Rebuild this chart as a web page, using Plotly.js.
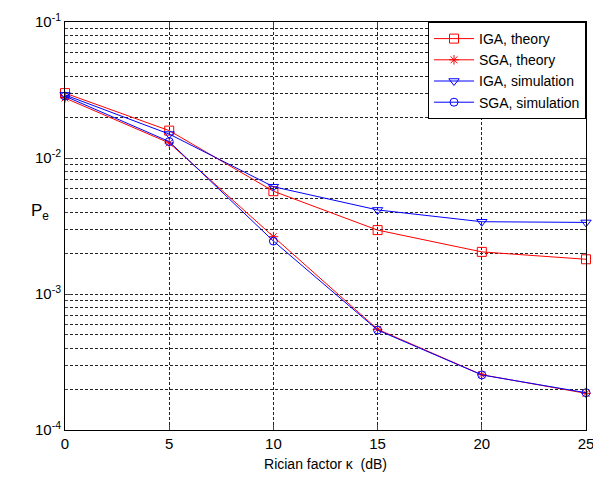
<!DOCTYPE html>
<html><head><meta charset="utf-8">
<script src="https://cdn.plot.ly/plotly-3.0.1.min.js"></script>
<style>html,body{margin:0;padding:0;background:#fff}#c{width:593px;height:477px}</style>
</head><body><div id="c"></div>
<script>
const kappa = [0, 5, 10, 15, 20, 25];
const igaTheory = [0.0300, 0.0159, 0.0057, 0.00295, 0.00204, 0.00180];
const sgaTheory = [0.0276, 0.0129, 0.00264, 0.00055, 0.000255, 0.000186];
const igaSim = [0.0291, 0.0150, 0.00615, 0.00415, 0.00340, 0.00336];
const sgaSim = [0.0285, 0.0132, 0.00245, 0.000543, 0.000254, 0.000188];
const yTickVals = [1e-4, 1e-3, 1e-2, 1e-1];
const yTickText = ['10<sup>-4</sup>', '10<sup>-3</sup>', '10<sup>-2</sup>', '10<sup>-1</sup>'];
const xTickVals = [0, 5, 10, 15, 20, 25];

const mk = (y, name, color, symbol, size) => ({
  x: kappa, y: y, name: name, type: 'scatter', mode: 'lines+markers', cliponaxis: false,
  line: {color: color, width: 1},
  marker: {symbol: symbol, size: size, color: color, line: {color: color, width: 1}}
});
const data = [
  mk(igaTheory, 'IGA, theory', '#ff0000', 'square-open', 9),
  mk(sgaTheory, 'SGA, theory', '#ff0000', 'asterisk-open', 8),
  mk(igaSim, 'IGA, simulation', '#0000ff', 'triangle-down-open', 9),
  mk(sgaSim, 'SGA, simulation', '#0000ff', 'circle-open', 8)
];
const axFont = {family: 'Liberation Sans, Arial, sans-serif', size: 15, color: '#000'};
const gridCol = '#222';
const layout = {
  width: 593, height: 477,
  margin: {l: 65, r: 7, t: 22, b: 47},
  paper_bgcolor: '#fff', plot_bgcolor: '#fff',
  font: axFont,
  showlegend: true,
  legend: {x: 1, y: 1, xanchor: 'right', yanchor: 'top', bgcolor: '#fff',
           bordercolor: '#000', borderwidth: 1,
           font: {family: 'Liberation Sans, Arial, sans-serif', size: 14, color: '#000'},
           tracegroupgap: 0, itemwidth: 40},
  xaxis: {range: [0, 25], tickvals: xTickVals, ticks: 'inside', ticklen: 5,
          ticklabeloverflow: 'allow',
          showline: true, linecolor: '#000', linewidth: 1, mirror: 'ticks',
          showgrid: true, gridcolor: gridCol, gridwidth: 1, griddash: '3px,2px',
          zeroline: false, tickfont: axFont,
          title: {text: 'Rician factor κ  (dB)', font: {family: 'Liberation Sans, Arial, sans-serif', size: 14, color: '#000'}, standoff: 8}},
  yaxis: {type: 'log', range: [-4, -1], tickvals: yTickVals, ticktext: yTickText,
          ticks: 'inside', ticklen: 6, ticklabeloverflow: 'allow',
          showline: true, linecolor: '#000', linewidth: 1, mirror: 'ticks',
          showgrid: true, gridcolor: gridCol, gridwidth: 1, griddash: '3px,2px',
          zeroline: false, tickfont: axFont,
          minor: {dtick: 'D1', showgrid: true, gridcolor: gridCol, gridwidth: 1,
                  griddash: '3px,2px', ticks: 'inside', ticklen: 3}},
  annotations: [{text: 'P<sub>e</sub>', xref: 'paper', yref: 'paper', x: -0.048, y: 0.534,
                 showarrow: false, xanchor: 'center', yanchor: 'middle',
                 font: {family: 'Liberation Sans, Arial, sans-serif', size: 17, color: '#000'}}]
};
Plotly.newPlot('c', data, layout, {staticPlot: true});
</script></body></html>
